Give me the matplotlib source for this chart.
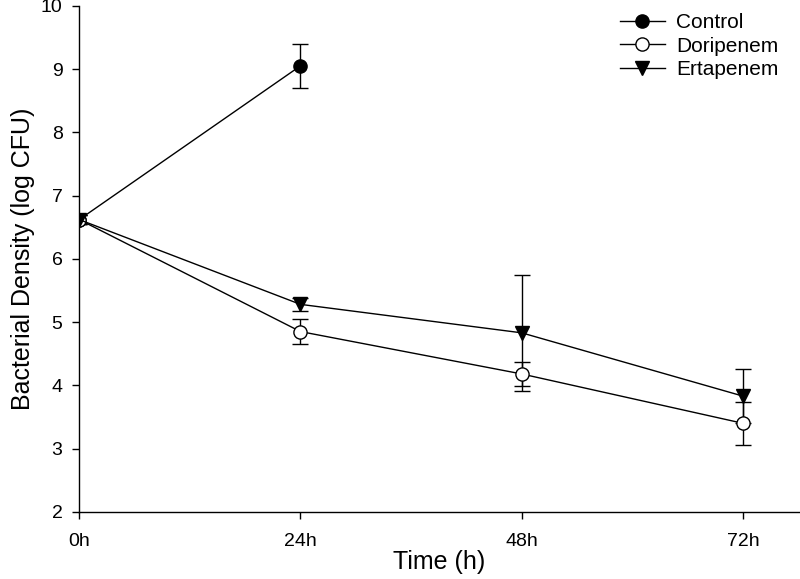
import matplotlib
matplotlib.use("Agg")
import matplotlib.pyplot as plt
from matplotlib.lines import Line2D

plt.rcParams['font.family'] = ['Liberation Sans', 'DejaVu Sans']

# datos
tiempos = [0, 24, 48, 72]
etiquetas_x = ['0h', '24h', '48h', '72h']

control_t = [0, 24]
control = [6.62, 9.05]
control_err = [0.07, 0.35]

doripenem = [6.62, 4.85, 4.18, 3.40]
doripenem_err = [0.07, 0.20, 0.19, 0.34]

ertapenem = [6.62, 5.28, 4.83, 3.83]
ertapenem_err = [0.07, 0.10, 0.92, 0.43]

fig = plt.figure(figsize=(8, 5.79), dpi=100)
ax = fig.add_axes([0.099, 0.116, 0.901, 0.874])

# barras de error debajo de los simbolos
barras = dict(fmt='none', ecolor='black', elinewidth=1.0, capsize=6, capthick=1.0, zorder=2)
ax.errorbar(control_t, control, yerr=control_err, **barras)
ax.errorbar(tiempos, doripenem, yerr=doripenem_err, **barras)
ax.errorbar(tiempos, ertapenem, yerr=ertapenem_err, **barras)

linea = dict(color='black', lw=1.0, markersize=9.5, markeredgecolor='black', markeredgewidth=1.0)
ax.plot(control_t, control, '-o', markerfacecolor='black', zorder=3, **linea)
ax.plot(tiempos, doripenem, '-o', markerfacecolor='white', zorder=4, **linea)
ax.plot(tiempos, ertapenem, '-v', markerfacecolor='black', zorder=5, **linea)

ax.set_xlim(0, 78.2)
ax.set_ylim(2, 10)
ax.set_xticks(tiempos)
ax.set_xticklabels(etiquetas_x)
ax.set_yticks(range(2, 11))

ax.spines['top'].set_visible(False)
ax.spines['right'].set_visible(False)
ax.spines['left'].set_linewidth(1.0)
ax.spines['bottom'].set_linewidth(1.0)
ax.tick_params(axis='both', direction='out', length=5, width=1.0, labelsize=14)
ax.tick_params(axis='x', pad=10)
ax.tick_params(axis='y', pad=7)

ax.set_xlabel('Time (h)', fontsize=18, labelpad=0)
ax.set_ylabel('Bacterial Density (log CFU)', fontsize=18, labelpad=4)

# leyenda sin barras de error
manejadores = [
    Line2D([], [], color='black', lw=1.0, marker='o', markersize=9.5, markerfacecolor='black', markeredgecolor='black'),
    Line2D([], [], color='black', lw=1.0, marker='o', markersize=9.5, markerfacecolor='white', markeredgecolor='black'),
    Line2D([], [], color='black', lw=1.0, marker='v', markersize=9.5, markerfacecolor='black', markeredgecolor='black'),
]
ax.legend(manejadores, ['Control', 'Doripenem', 'Ertapenem'], loc='upper left',
          bbox_to_anchor=(620 / 800, 1 - 13 / 579), bbox_transform=fig.transFigure,
          frameon=False, fontsize=15, borderpad=0, borderaxespad=0,
          handlelength=2.15, labelspacing=0.22, handletextpad=0.55)

fig.savefig('out.png', dpi=100)
